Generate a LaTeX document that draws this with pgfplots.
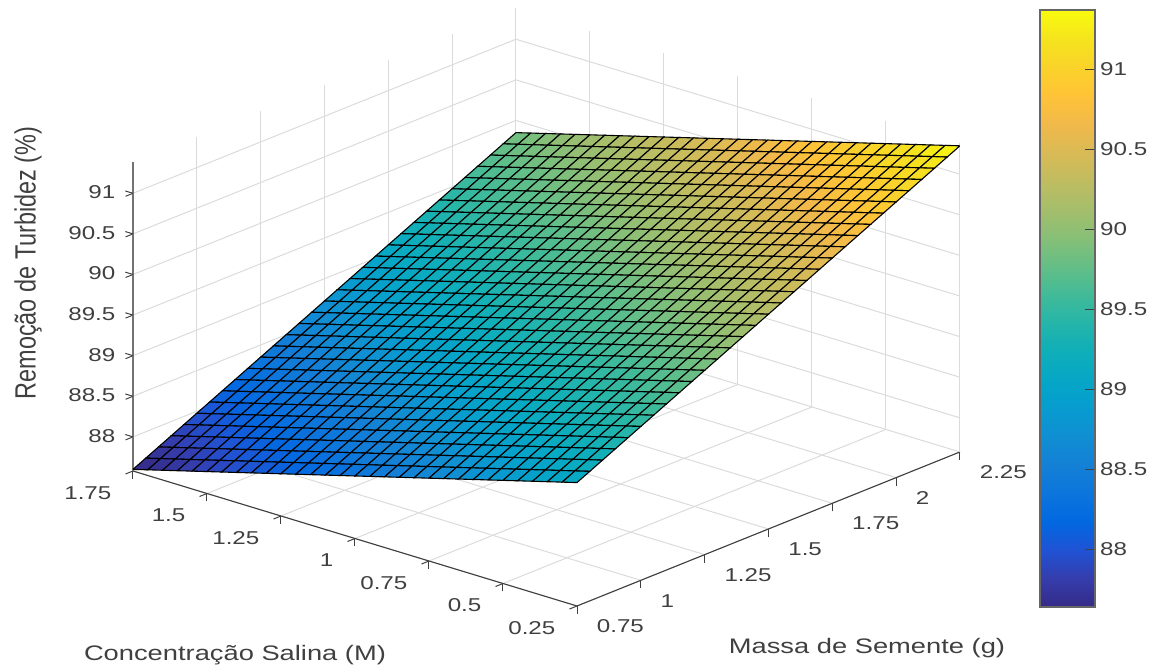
\documentclass[border=0pt]{standalone}
\usepackage{pgfplots}
\usepackage{fontspec}
\pgfplotsset{compat=1.18}
\setmainfont[FakeStretch=1.3]{Liberation Sans}
\newfontfamily\rotfont[FakeStretch=0.8]{Liberation Sans}
\definecolor{axc}{gray}{0.25}
\definecolor{gridc}{gray}{0.86}
\pgfplotsset{colormap={parula}{rgb=(.2081,.1663,.5292) rgb=(.2081,.2386,.6771) rgb=(.1253,.3242,.8303) rgb=(.0060,.4086,.8828) rgb=(.0498,.4586,.8641) rgb=(.0779,.5040,.8384) rgb=(.0641,.5570,.8240) rgb=(.0265,.6137,.8135) rgb=(.0228,.6535,.7768) rgb=(.0590,.6838,.7254) rgb=(.1453,.7098,.6646) rgb=(.2586,.7317,.5954) rgb=(.3953,.7459,.5244) rgb=(.5300,.7491,.4661) rgb=(.6473,.7456,.4188) rgb=(.7525,.7384,.3768) rgb=(.8507,.7299,.3360) rgb=(.9450,.7261,.2886) rgb=(.9990,.7653,.2164) rgb=(.9789,.8271,.1633) rgb=(.9589,.8949,.1132) rgb=(.9763,.9831,.0538)}}
\begin{document}
\begin{tikzpicture}
\path[use as bounding box] (0,0) rectangle (1159pt,669pt);
\begin{axis}[
  at={(133pt,63pt)}, anchor=south west,
  x={(296pt,-90pt)}, y={(255.3pt,102.7pt)}, z={(0pt,81.2pt)},
  x dir=reverse,
  xmin=0.25, xmax=1.75, ymin=0.75, ymax=2.25, zmin=87.58, zmax=91.38,
  xtick={0.25,0.5,0.75,1,1.25,1.5,1.75},
  ytick={0.75,1,1.25,1.5,1.75,2,2.25},
  ztick={88,88.5,89,89.5,90,90.5,91},
  axis x line*=bottom, axis y line*=left, axis z line*=left,
  axis line style={draw=axc, line width=1.1pt},
  z axis line style={draw=black!55, line width=1.8pt},
  grid=major, major grid style={draw=gridc, line width=1pt},
  tick style={draw=axc, line width=1pt},
  tick align=outside, major tick length=8pt,
  every tick label/.append style={font=\fontsize{18.6}{20}\selectfont, text=axc, inner sep=0pt, /pgf/number format/assume math mode=true},
  xticklabel style={anchor=east, xshift=-14pt, yshift=-19pt},
  yticklabel style={anchor=west, xshift=12pt, yshift=-18pt},
  zticklabel style={anchor=east, xshift=-10pt, yshift=4pt},
  xlabel={Concentração Salina (M)},
  ylabel={Massa de Semente (g)},
  zlabel={\rotfont Remoção de Turbidez (\%)},
  every axis x label/.style={at={(axis cs:1.75,0.75,87.58)}, anchor=center, xshift=102pt, yshift=-184pt, font=\fontsize{21}{24}\selectfont, text=axc},
  every axis y label/.style={at={(axis cs:0.25,0.75,87.58)}, anchor=center, xshift=290pt, yshift=-42pt, font=\fontsize{21}{24}\selectfont, text=axc},
  every axis z label/.style={at={(axis cs:1.75,0.75,87.58)}, xshift=-105pt, yshift=208pt, rotate=90, anchor=center, font=\fontsize{29.3}{32}\selectfont, text=axc},
  colormap name=parula,
  point meta min=87.64, point meta max=91.37,
]
\addplot3[surf, shader=faceted, faceted color=black, line width=1.1pt, mesh/rows=31, mesh/cols=31] coordinates {
(0.25,0.75,89.1)(0.25,0.8,89.175)(0.25,0.85,89.25)(0.25,0.9,89.325)(0.25,0.95,89.4)(0.25,1,89.475)(0.25,1.05,89.55)(0.25,1.1,89.625)(0.25,1.15,89.7)(0.25,1.2,89.775)(0.25,1.25,89.85)(0.25,1.3,89.925)(0.25,1.35,90)(0.25,1.4,90.075)(0.25,1.45,90.15)(0.25,1.5,90.225)(0.25,1.55,90.3)(0.25,1.6,90.375)(0.25,1.65,90.45)(0.25,1.7,90.525)(0.25,1.75,90.6)(0.25,1.8,90.675)(0.25,1.85,90.75)(0.25,1.9,90.825)(0.25,1.95,90.9)(0.25,2,90.975)(0.25,2.05,91.05)(0.25,2.1,91.125)(0.25,2.15,91.2)(0.25,2.2,91.275)(0.25,2.25,91.35)
(0.3,0.75,89.05)(0.3,0.8,89.125)(0.3,0.85,89.2)(0.3,0.9,89.275)(0.3,0.95,89.35)(0.3,1,89.425)(0.3,1.05,89.5)(0.3,1.1,89.575)(0.3,1.15,89.65)(0.3,1.2,89.725)(0.3,1.25,89.8)(0.3,1.3,89.875)(0.3,1.35,89.95)(0.3,1.4,90.025)(0.3,1.45,90.1)(0.3,1.5,90.175)(0.3,1.55,90.25)(0.3,1.6,90.325)(0.3,1.65,90.4)(0.3,1.7,90.475)(0.3,1.75,90.55)(0.3,1.8,90.625)(0.3,1.85,90.7)(0.3,1.9,90.775)(0.3,1.95,90.85)(0.3,2,90.925)(0.3,2.05,91)(0.3,2.1,91.075)(0.3,2.15,91.15)(0.3,2.2,91.225)(0.3,2.25,91.3)
(0.35,0.75,89)(0.35,0.8,89.075)(0.35,0.85,89.15)(0.35,0.9,89.225)(0.35,0.95,89.3)(0.35,1,89.375)(0.35,1.05,89.45)(0.35,1.1,89.525)(0.35,1.15,89.6)(0.35,1.2,89.675)(0.35,1.25,89.75)(0.35,1.3,89.825)(0.35,1.35,89.9)(0.35,1.4,89.975)(0.35,1.45,90.05)(0.35,1.5,90.125)(0.35,1.55,90.2)(0.35,1.6,90.275)(0.35,1.65,90.35)(0.35,1.7,90.425)(0.35,1.75,90.5)(0.35,1.8,90.575)(0.35,1.85,90.65)(0.35,1.9,90.725)(0.35,1.95,90.8)(0.35,2,90.875)(0.35,2.05,90.95)(0.35,2.1,91.025)(0.35,2.15,91.1)(0.35,2.2,91.175)(0.35,2.25,91.25)
(0.4,0.75,88.95)(0.4,0.8,89.025)(0.4,0.85,89.1)(0.4,0.9,89.175)(0.4,0.95,89.25)(0.4,1,89.325)(0.4,1.05,89.4)(0.4,1.1,89.475)(0.4,1.15,89.55)(0.4,1.2,89.625)(0.4,1.25,89.7)(0.4,1.3,89.775)(0.4,1.35,89.85)(0.4,1.4,89.925)(0.4,1.45,90)(0.4,1.5,90.075)(0.4,1.55,90.15)(0.4,1.6,90.225)(0.4,1.65,90.3)(0.4,1.7,90.375)(0.4,1.75,90.45)(0.4,1.8,90.525)(0.4,1.85,90.6)(0.4,1.9,90.675)(0.4,1.95,90.75)(0.4,2,90.825)(0.4,2.05,90.9)(0.4,2.1,90.975)(0.4,2.15,91.05)(0.4,2.2,91.125)(0.4,2.25,91.2)
(0.45,0.75,88.9)(0.45,0.8,88.975)(0.45,0.85,89.05)(0.45,0.9,89.125)(0.45,0.95,89.2)(0.45,1,89.275)(0.45,1.05,89.35)(0.45,1.1,89.425)(0.45,1.15,89.5)(0.45,1.2,89.575)(0.45,1.25,89.65)(0.45,1.3,89.725)(0.45,1.35,89.8)(0.45,1.4,89.875)(0.45,1.45,89.95)(0.45,1.5,90.025)(0.45,1.55,90.1)(0.45,1.6,90.175)(0.45,1.65,90.25)(0.45,1.7,90.325)(0.45,1.75,90.4)(0.45,1.8,90.475)(0.45,1.85,90.55)(0.45,1.9,90.625)(0.45,1.95,90.7)(0.45,2,90.775)(0.45,2.05,90.85)(0.45,2.1,90.925)(0.45,2.15,91)(0.45,2.2,91.075)(0.45,2.25,91.15)
(0.5,0.75,88.85)(0.5,0.8,88.925)(0.5,0.85,89)(0.5,0.9,89.075)(0.5,0.95,89.15)(0.5,1,89.225)(0.5,1.05,89.3)(0.5,1.1,89.375)(0.5,1.15,89.45)(0.5,1.2,89.525)(0.5,1.25,89.6)(0.5,1.3,89.675)(0.5,1.35,89.75)(0.5,1.4,89.825)(0.5,1.45,89.9)(0.5,1.5,89.975)(0.5,1.55,90.05)(0.5,1.6,90.125)(0.5,1.65,90.2)(0.5,1.7,90.275)(0.5,1.75,90.35)(0.5,1.8,90.425)(0.5,1.85,90.5)(0.5,1.9,90.575)(0.5,1.95,90.65)(0.5,2,90.725)(0.5,2.05,90.8)(0.5,2.1,90.875)(0.5,2.15,90.95)(0.5,2.2,91.025)(0.5,2.25,91.1)
(0.55,0.75,88.8)(0.55,0.8,88.875)(0.55,0.85,88.95)(0.55,0.9,89.025)(0.55,0.95,89.1)(0.55,1,89.175)(0.55,1.05,89.25)(0.55,1.1,89.325)(0.55,1.15,89.4)(0.55,1.2,89.475)(0.55,1.25,89.55)(0.55,1.3,89.625)(0.55,1.35,89.7)(0.55,1.4,89.775)(0.55,1.45,89.85)(0.55,1.5,89.925)(0.55,1.55,90)(0.55,1.6,90.075)(0.55,1.65,90.15)(0.55,1.7,90.225)(0.55,1.75,90.3)(0.55,1.8,90.375)(0.55,1.85,90.45)(0.55,1.9,90.525)(0.55,1.95,90.6)(0.55,2,90.675)(0.55,2.05,90.75)(0.55,2.1,90.825)(0.55,2.15,90.9)(0.55,2.2,90.975)(0.55,2.25,91.05)
(0.6,0.75,88.75)(0.6,0.8,88.825)(0.6,0.85,88.9)(0.6,0.9,88.975)(0.6,0.95,89.05)(0.6,1,89.125)(0.6,1.05,89.2)(0.6,1.1,89.275)(0.6,1.15,89.35)(0.6,1.2,89.425)(0.6,1.25,89.5)(0.6,1.3,89.575)(0.6,1.35,89.65)(0.6,1.4,89.725)(0.6,1.45,89.8)(0.6,1.5,89.875)(0.6,1.55,89.95)(0.6,1.6,90.025)(0.6,1.65,90.1)(0.6,1.7,90.175)(0.6,1.75,90.25)(0.6,1.8,90.325)(0.6,1.85,90.4)(0.6,1.9,90.475)(0.6,1.95,90.55)(0.6,2,90.625)(0.6,2.05,90.7)(0.6,2.1,90.775)(0.6,2.15,90.85)(0.6,2.2,90.925)(0.6,2.25,91)
(0.65,0.75,88.7)(0.65,0.8,88.775)(0.65,0.85,88.85)(0.65,0.9,88.925)(0.65,0.95,89)(0.65,1,89.075)(0.65,1.05,89.15)(0.65,1.1,89.225)(0.65,1.15,89.3)(0.65,1.2,89.375)(0.65,1.25,89.45)(0.65,1.3,89.525)(0.65,1.35,89.6)(0.65,1.4,89.675)(0.65,1.45,89.75)(0.65,1.5,89.825)(0.65,1.55,89.9)(0.65,1.6,89.975)(0.65,1.65,90.05)(0.65,1.7,90.125)(0.65,1.75,90.2)(0.65,1.8,90.275)(0.65,1.85,90.35)(0.65,1.9,90.425)(0.65,1.95,90.5)(0.65,2,90.575)(0.65,2.05,90.65)(0.65,2.1,90.725)(0.65,2.15,90.8)(0.65,2.2,90.875)(0.65,2.25,90.95)
(0.7,0.75,88.65)(0.7,0.8,88.725)(0.7,0.85,88.8)(0.7,0.9,88.875)(0.7,0.95,88.95)(0.7,1,89.025)(0.7,1.05,89.1)(0.7,1.1,89.175)(0.7,1.15,89.25)(0.7,1.2,89.325)(0.7,1.25,89.4)(0.7,1.3,89.475)(0.7,1.35,89.55)(0.7,1.4,89.625)(0.7,1.45,89.7)(0.7,1.5,89.775)(0.7,1.55,89.85)(0.7,1.6,89.925)(0.7,1.65,90)(0.7,1.7,90.075)(0.7,1.75,90.15)(0.7,1.8,90.225)(0.7,1.85,90.3)(0.7,1.9,90.375)(0.7,1.95,90.45)(0.7,2,90.525)(0.7,2.05,90.6)(0.7,2.1,90.675)(0.7,2.15,90.75)(0.7,2.2,90.825)(0.7,2.25,90.9)
(0.75,0.75,88.6)(0.75,0.8,88.675)(0.75,0.85,88.75)(0.75,0.9,88.825)(0.75,0.95,88.9)(0.75,1,88.975)(0.75,1.05,89.05)(0.75,1.1,89.125)(0.75,1.15,89.2)(0.75,1.2,89.275)(0.75,1.25,89.35)(0.75,1.3,89.425)(0.75,1.35,89.5)(0.75,1.4,89.575)(0.75,1.45,89.65)(0.75,1.5,89.725)(0.75,1.55,89.8)(0.75,1.6,89.875)(0.75,1.65,89.95)(0.75,1.7,90.025)(0.75,1.75,90.1)(0.75,1.8,90.175)(0.75,1.85,90.25)(0.75,1.9,90.325)(0.75,1.95,90.4)(0.75,2,90.475)(0.75,2.05,90.55)(0.75,2.1,90.625)(0.75,2.15,90.7)(0.75,2.2,90.775)(0.75,2.25,90.85)
(0.8,0.75,88.55)(0.8,0.8,88.625)(0.8,0.85,88.7)(0.8,0.9,88.775)(0.8,0.95,88.85)(0.8,1,88.925)(0.8,1.05,89)(0.8,1.1,89.075)(0.8,1.15,89.15)(0.8,1.2,89.225)(0.8,1.25,89.3)(0.8,1.3,89.375)(0.8,1.35,89.45)(0.8,1.4,89.525)(0.8,1.45,89.6)(0.8,1.5,89.675)(0.8,1.55,89.75)(0.8,1.6,89.825)(0.8,1.65,89.9)(0.8,1.7,89.975)(0.8,1.75,90.05)(0.8,1.8,90.125)(0.8,1.85,90.2)(0.8,1.9,90.275)(0.8,1.95,90.35)(0.8,2,90.425)(0.8,2.05,90.5)(0.8,2.1,90.575)(0.8,2.15,90.65)(0.8,2.2,90.725)(0.8,2.25,90.8)
(0.85,0.75,88.5)(0.85,0.8,88.575)(0.85,0.85,88.65)(0.85,0.9,88.725)(0.85,0.95,88.8)(0.85,1,88.875)(0.85,1.05,88.95)(0.85,1.1,89.025)(0.85,1.15,89.1)(0.85,1.2,89.175)(0.85,1.25,89.25)(0.85,1.3,89.325)(0.85,1.35,89.4)(0.85,1.4,89.475)(0.85,1.45,89.55)(0.85,1.5,89.625)(0.85,1.55,89.7)(0.85,1.6,89.775)(0.85,1.65,89.85)(0.85,1.7,89.925)(0.85,1.75,90)(0.85,1.8,90.075)(0.85,1.85,90.15)(0.85,1.9,90.225)(0.85,1.95,90.3)(0.85,2,90.375)(0.85,2.05,90.45)(0.85,2.1,90.525)(0.85,2.15,90.6)(0.85,2.2,90.675)(0.85,2.25,90.75)
(0.9,0.75,88.45)(0.9,0.8,88.525)(0.9,0.85,88.6)(0.9,0.9,88.675)(0.9,0.95,88.75)(0.9,1,88.825)(0.9,1.05,88.9)(0.9,1.1,88.975)(0.9,1.15,89.05)(0.9,1.2,89.125)(0.9,1.25,89.2)(0.9,1.3,89.275)(0.9,1.35,89.35)(0.9,1.4,89.425)(0.9,1.45,89.5)(0.9,1.5,89.575)(0.9,1.55,89.65)(0.9,1.6,89.725)(0.9,1.65,89.8)(0.9,1.7,89.875)(0.9,1.75,89.95)(0.9,1.8,90.025)(0.9,1.85,90.1)(0.9,1.9,90.175)(0.9,1.95,90.25)(0.9,2,90.325)(0.9,2.05,90.4)(0.9,2.1,90.475)(0.9,2.15,90.55)(0.9,2.2,90.625)(0.9,2.25,90.7)
(0.95,0.75,88.4)(0.95,0.8,88.475)(0.95,0.85,88.55)(0.95,0.9,88.625)(0.95,0.95,88.7)(0.95,1,88.775)(0.95,1.05,88.85)(0.95,1.1,88.925)(0.95,1.15,89)(0.95,1.2,89.075)(0.95,1.25,89.15)(0.95,1.3,89.225)(0.95,1.35,89.3)(0.95,1.4,89.375)(0.95,1.45,89.45)(0.95,1.5,89.525)(0.95,1.55,89.6)(0.95,1.6,89.675)(0.95,1.65,89.75)(0.95,1.7,89.825)(0.95,1.75,89.9)(0.95,1.8,89.975)(0.95,1.85,90.05)(0.95,1.9,90.125)(0.95,1.95,90.2)(0.95,2,90.275)(0.95,2.05,90.35)(0.95,2.1,90.425)(0.95,2.15,90.5)(0.95,2.2,90.575)(0.95,2.25,90.65)
(1,0.75,88.35)(1,0.8,88.425)(1,0.85,88.5)(1,0.9,88.575)(1,0.95,88.65)(1,1,88.725)(1,1.05,88.8)(1,1.1,88.875)(1,1.15,88.95)(1,1.2,89.025)(1,1.25,89.1)(1,1.3,89.175)(1,1.35,89.25)(1,1.4,89.325)(1,1.45,89.4)(1,1.5,89.475)(1,1.55,89.55)(1,1.6,89.625)(1,1.65,89.7)(1,1.7,89.775)(1,1.75,89.85)(1,1.8,89.925)(1,1.85,90)(1,1.9,90.075)(1,1.95,90.15)(1,2,90.225)(1,2.05,90.3)(1,2.1,90.375)(1,2.15,90.45)(1,2.2,90.525)(1,2.25,90.6)
(1.05,0.75,88.3)(1.05,0.8,88.375)(1.05,0.85,88.45)(1.05,0.9,88.525)(1.05,0.95,88.6)(1.05,1,88.675)(1.05,1.05,88.75)(1.05,1.1,88.825)(1.05,1.15,88.9)(1.05,1.2,88.975)(1.05,1.25,89.05)(1.05,1.3,89.125)(1.05,1.35,89.2)(1.05,1.4,89.275)(1.05,1.45,89.35)(1.05,1.5,89.425)(1.05,1.55,89.5)(1.05,1.6,89.575)(1.05,1.65,89.65)(1.05,1.7,89.725)(1.05,1.75,89.8)(1.05,1.8,89.875)(1.05,1.85,89.95)(1.05,1.9,90.025)(1.05,1.95,90.1)(1.05,2,90.175)(1.05,2.05,90.25)(1.05,2.1,90.325)(1.05,2.15,90.4)(1.05,2.2,90.475)(1.05,2.25,90.55)
(1.1,0.75,88.25)(1.1,0.8,88.325)(1.1,0.85,88.4)(1.1,0.9,88.475)(1.1,0.95,88.55)(1.1,1,88.625)(1.1,1.05,88.7)(1.1,1.1,88.775)(1.1,1.15,88.85)(1.1,1.2,88.925)(1.1,1.25,89)(1.1,1.3,89.075)(1.1,1.35,89.15)(1.1,1.4,89.225)(1.1,1.45,89.3)(1.1,1.5,89.375)(1.1,1.55,89.45)(1.1,1.6,89.525)(1.1,1.65,89.6)(1.1,1.7,89.675)(1.1,1.75,89.75)(1.1,1.8,89.825)(1.1,1.85,89.9)(1.1,1.9,89.975)(1.1,1.95,90.05)(1.1,2,90.125)(1.1,2.05,90.2)(1.1,2.1,90.275)(1.1,2.15,90.35)(1.1,2.2,90.425)(1.1,2.25,90.5)
(1.15,0.75,88.2)(1.15,0.8,88.275)(1.15,0.85,88.35)(1.15,0.9,88.425)(1.15,0.95,88.5)(1.15,1,88.575)(1.15,1.05,88.65)(1.15,1.1,88.725)(1.15,1.15,88.8)(1.15,1.2,88.875)(1.15,1.25,88.95)(1.15,1.3,89.025)(1.15,1.35,89.1)(1.15,1.4,89.175)(1.15,1.45,89.25)(1.15,1.5,89.325)(1.15,1.55,89.4)(1.15,1.6,89.475)(1.15,1.65,89.55)(1.15,1.7,89.625)(1.15,1.75,89.7)(1.15,1.8,89.775)(1.15,1.85,89.85)(1.15,1.9,89.925)(1.15,1.95,90)(1.15,2,90.075)(1.15,2.05,90.15)(1.15,2.1,90.225)(1.15,2.15,90.3)(1.15,2.2,90.375)(1.15,2.25,90.45)
(1.2,0.75,88.15)(1.2,0.8,88.225)(1.2,0.85,88.3)(1.2,0.9,88.375)(1.2,0.95,88.45)(1.2,1,88.525)(1.2,1.05,88.6)(1.2,1.1,88.675)(1.2,1.15,88.75)(1.2,1.2,88.825)(1.2,1.25,88.9)(1.2,1.3,88.975)(1.2,1.35,89.05)(1.2,1.4,89.125)(1.2,1.45,89.2)(1.2,1.5,89.275)(1.2,1.55,89.35)(1.2,1.6,89.425)(1.2,1.65,89.5)(1.2,1.7,89.575)(1.2,1.75,89.65)(1.2,1.8,89.725)(1.2,1.85,89.8)(1.2,1.9,89.875)(1.2,1.95,89.95)(1.2,2,90.025)(1.2,2.05,90.1)(1.2,2.1,90.175)(1.2,2.15,90.25)(1.2,2.2,90.325)(1.2,2.25,90.4)
(1.25,0.75,88.1)(1.25,0.8,88.175)(1.25,0.85,88.25)(1.25,0.9,88.325)(1.25,0.95,88.4)(1.25,1,88.475)(1.25,1.05,88.55)(1.25,1.1,88.625)(1.25,1.15,88.7)(1.25,1.2,88.775)(1.25,1.25,88.85)(1.25,1.3,88.925)(1.25,1.35,89)(1.25,1.4,89.075)(1.25,1.45,89.15)(1.25,1.5,89.225)(1.25,1.55,89.3)(1.25,1.6,89.375)(1.25,1.65,89.45)(1.25,1.7,89.525)(1.25,1.75,89.6)(1.25,1.8,89.675)(1.25,1.85,89.75)(1.25,1.9,89.825)(1.25,1.95,89.9)(1.25,2,89.975)(1.25,2.05,90.05)(1.25,2.1,90.125)(1.25,2.15,90.2)(1.25,2.2,90.275)(1.25,2.25,90.35)
(1.3,0.75,88.05)(1.3,0.8,88.125)(1.3,0.85,88.2)(1.3,0.9,88.275)(1.3,0.95,88.35)(1.3,1,88.425)(1.3,1.05,88.5)(1.3,1.1,88.575)(1.3,1.15,88.65)(1.3,1.2,88.725)(1.3,1.25,88.8)(1.3,1.3,88.875)(1.3,1.35,88.95)(1.3,1.4,89.025)(1.3,1.45,89.1)(1.3,1.5,89.175)(1.3,1.55,89.25)(1.3,1.6,89.325)(1.3,1.65,89.4)(1.3,1.7,89.475)(1.3,1.75,89.55)(1.3,1.8,89.625)(1.3,1.85,89.7)(1.3,1.9,89.775)(1.3,1.95,89.85)(1.3,2,89.925)(1.3,2.05,90)(1.3,2.1,90.075)(1.3,2.15,90.15)(1.3,2.2,90.225)(1.3,2.25,90.3)
(1.35,0.75,88)(1.35,0.8,88.075)(1.35,0.85,88.15)(1.35,0.9,88.225)(1.35,0.95,88.3)(1.35,1,88.375)(1.35,1.05,88.45)(1.35,1.1,88.525)(1.35,1.15,88.6)(1.35,1.2,88.675)(1.35,1.25,88.75)(1.35,1.3,88.825)(1.35,1.35,88.9)(1.35,1.4,88.975)(1.35,1.45,89.05)(1.35,1.5,89.125)(1.35,1.55,89.2)(1.35,1.6,89.275)(1.35,1.65,89.35)(1.35,1.7,89.425)(1.35,1.75,89.5)(1.35,1.8,89.575)(1.35,1.85,89.65)(1.35,1.9,89.725)(1.35,1.95,89.8)(1.35,2,89.875)(1.35,2.05,89.95)(1.35,2.1,90.025)(1.35,2.15,90.1)(1.35,2.2,90.175)(1.35,2.25,90.25)
(1.4,0.75,87.95)(1.4,0.8,88.025)(1.4,0.85,88.1)(1.4,0.9,88.175)(1.4,0.95,88.25)(1.4,1,88.325)(1.4,1.05,88.4)(1.4,1.1,88.475)(1.4,1.15,88.55)(1.4,1.2,88.625)(1.4,1.25,88.7)(1.4,1.3,88.775)(1.4,1.35,88.85)(1.4,1.4,88.925)(1.4,1.45,89)(1.4,1.5,89.075)(1.4,1.55,89.15)(1.4,1.6,89.225)(1.4,1.65,89.3)(1.4,1.7,89.375)(1.4,1.75,89.45)(1.4,1.8,89.525)(1.4,1.85,89.6)(1.4,1.9,89.675)(1.4,1.95,89.75)(1.4,2,89.825)(1.4,2.05,89.9)(1.4,2.1,89.975)(1.4,2.15,90.05)(1.4,2.2,90.125)(1.4,2.25,90.2)
(1.45,0.75,87.9)(1.45,0.8,87.975)(1.45,0.85,88.05)(1.45,0.9,88.125)(1.45,0.95,88.2)(1.45,1,88.275)(1.45,1.05,88.35)(1.45,1.1,88.425)(1.45,1.15,88.5)(1.45,1.2,88.575)(1.45,1.25,88.65)(1.45,1.3,88.725)(1.45,1.35,88.8)(1.45,1.4,88.875)(1.45,1.45,88.95)(1.45,1.5,89.025)(1.45,1.55,89.1)(1.45,1.6,89.175)(1.45,1.65,89.25)(1.45,1.7,89.325)(1.45,1.75,89.4)(1.45,1.8,89.475)(1.45,1.85,89.55)(1.45,1.9,89.625)(1.45,1.95,89.7)(1.45,2,89.775)(1.45,2.05,89.85)(1.45,2.1,89.925)(1.45,2.15,90)(1.45,2.2,90.075)(1.45,2.25,90.15)
(1.5,0.75,87.85)(1.5,0.8,87.925)(1.5,0.85,88)(1.5,0.9,88.075)(1.5,0.95,88.15)(1.5,1,88.225)(1.5,1.05,88.3)(1.5,1.1,88.375)(1.5,1.15,88.45)(1.5,1.2,88.525)(1.5,1.25,88.6)(1.5,1.3,88.675)(1.5,1.35,88.75)(1.5,1.4,88.825)(1.5,1.45,88.9)(1.5,1.5,88.975)(1.5,1.55,89.05)(1.5,1.6,89.125)(1.5,1.65,89.2)(1.5,1.7,89.275)(1.5,1.75,89.35)(1.5,1.8,89.425)(1.5,1.85,89.5)(1.5,1.9,89.575)(1.5,1.95,89.65)(1.5,2,89.725)(1.5,2.05,89.8)(1.5,2.1,89.875)(1.5,2.15,89.95)(1.5,2.2,90.025)(1.5,2.25,90.1)
(1.55,0.75,87.8)(1.55,0.8,87.875)(1.55,0.85,87.95)(1.55,0.9,88.025)(1.55,0.95,88.1)(1.55,1,88.175)(1.55,1.05,88.25)(1.55,1.1,88.325)(1.55,1.15,88.4)(1.55,1.2,88.475)(1.55,1.25,88.55)(1.55,1.3,88.625)(1.55,1.35,88.7)(1.55,1.4,88.775)(1.55,1.45,88.85)(1.55,1.5,88.925)(1.55,1.55,89)(1.55,1.6,89.075)(1.55,1.65,89.15)(1.55,1.7,89.225)(1.55,1.75,89.3)(1.55,1.8,89.375)(1.55,1.85,89.45)(1.55,1.9,89.525)(1.55,1.95,89.6)(1.55,2,89.675)(1.55,2.05,89.75)(1.55,2.1,89.825)(1.55,2.15,89.9)(1.55,2.2,89.975)(1.55,2.25,90.05)
(1.6,0.75,87.75)(1.6,0.8,87.825)(1.6,0.85,87.9)(1.6,0.9,87.975)(1.6,0.95,88.05)(1.6,1,88.125)(1.6,1.05,88.2)(1.6,1.1,88.275)(1.6,1.15,88.35)(1.6,1.2,88.425)(1.6,1.25,88.5)(1.6,1.3,88.575)(1.6,1.35,88.65)(1.6,1.4,88.725)(1.6,1.45,88.8)(1.6,1.5,88.875)(1.6,1.55,88.95)(1.6,1.6,89.025)(1.6,1.65,89.1)(1.6,1.7,89.175)(1.6,1.75,89.25)(1.6,1.8,89.325)(1.6,1.85,89.4)(1.6,1.9,89.475)(1.6,1.95,89.55)(1.6,2,89.625)(1.6,2.05,89.7)(1.6,2.1,89.775)(1.6,2.15,89.85)(1.6,2.2,89.925)(1.6,2.25,90)
(1.65,0.75,87.7)(1.65,0.8,87.775)(1.65,0.85,87.85)(1.65,0.9,87.925)(1.65,0.95,88)(1.65,1,88.075)(1.65,1.05,88.15)(1.65,1.1,88.225)(1.65,1.15,88.3)(1.65,1.2,88.375)(1.65,1.25,88.45)(1.65,1.3,88.525)(1.65,1.35,88.6)(1.65,1.4,88.675)(1.65,1.45,88.75)(1.65,1.5,88.825)(1.65,1.55,88.9)(1.65,1.6,88.975)(1.65,1.65,89.05)(1.65,1.7,89.125)(1.65,1.75,89.2)(1.65,1.8,89.275)(1.65,1.85,89.35)(1.65,1.9,89.425)(1.65,1.95,89.5)(1.65,2,89.575)(1.65,2.05,89.65)(1.65,2.1,89.725)(1.65,2.15,89.8)(1.65,2.2,89.875)(1.65,2.25,89.95)
(1.7,0.75,87.65)(1.7,0.8,87.725)(1.7,0.85,87.8)(1.7,0.9,87.875)(1.7,0.95,87.95)(1.7,1,88.025)(1.7,1.05,88.1)(1.7,1.1,88.175)(1.7,1.15,88.25)(1.7,1.2,88.325)(1.7,1.25,88.4)(1.7,1.3,88.475)(1.7,1.35,88.55)(1.7,1.4,88.625)(1.7,1.45,88.7)(1.7,1.5,88.775)(1.7,1.55,88.85)(1.7,1.6,88.925)(1.7,1.65,89)(1.7,1.7,89.075)(1.7,1.75,89.15)(1.7,1.8,89.225)(1.7,1.85,89.3)(1.7,1.9,89.375)(1.7,1.95,89.45)(1.7,2,89.525)(1.7,2.05,89.6)(1.7,2.1,89.675)(1.7,2.15,89.75)(1.7,2.2,89.825)(1.7,2.25,89.9)
(1.75,0.75,87.6)(1.75,0.8,87.675)(1.75,0.85,87.75)(1.75,0.9,87.825)(1.75,0.95,87.9)(1.75,1,87.975)(1.75,1.05,88.05)(1.75,1.1,88.125)(1.75,1.15,88.2)(1.75,1.2,88.275)(1.75,1.25,88.35)(1.75,1.3,88.425)(1.75,1.35,88.5)(1.75,1.4,88.575)(1.75,1.45,88.65)(1.75,1.5,88.725)(1.75,1.55,88.8)(1.75,1.6,88.875)(1.75,1.65,88.95)(1.75,1.7,89.025)(1.75,1.75,89.1)(1.75,1.8,89.175)(1.75,1.85,89.25)(1.75,1.9,89.325)(1.75,1.95,89.4)(1.75,2,89.475)(1.75,2.05,89.55)(1.75,2.1,89.625)(1.75,2.15,89.7)(1.75,2.2,89.775)(1.75,2.25,89.85)
};
\end{axis}
\begin{axis}[
  at={(1040pt,62pt)}, anchor=south west, scale only axis, width=55pt, height=597pt,
  xmin=0, xmax=1, ymin=87.64, ymax=91.37,
  axis on top,
  xtick=\empty, ytick={88,88.5,89,89.5,90,90.5,91},
  ytick pos=right, yticklabel pos=right, tick align=inside, major tick length=10pt,
  axis line style={draw=black!60, line width=1.4pt},
  tick style={draw=axc, line width=1pt},
  every tick label/.append style={font=\fontsize{18.6}{20}\selectfont, text=axc, inner sep=0pt, /pgf/number format/assume math mode=true},
  yticklabel style={anchor=west, xshift=5pt},
  colormap name=parula,
  point meta min=87.64, point meta max=91.37,
]
\addplot[surf, shader=interp, point meta=y, mesh/rows=2, mesh/cols=2] coordinates {(0,87.64)(1,87.64)(0,91.37)(1,91.37)};
\end{axis}
\end{tikzpicture}
\end{document}
